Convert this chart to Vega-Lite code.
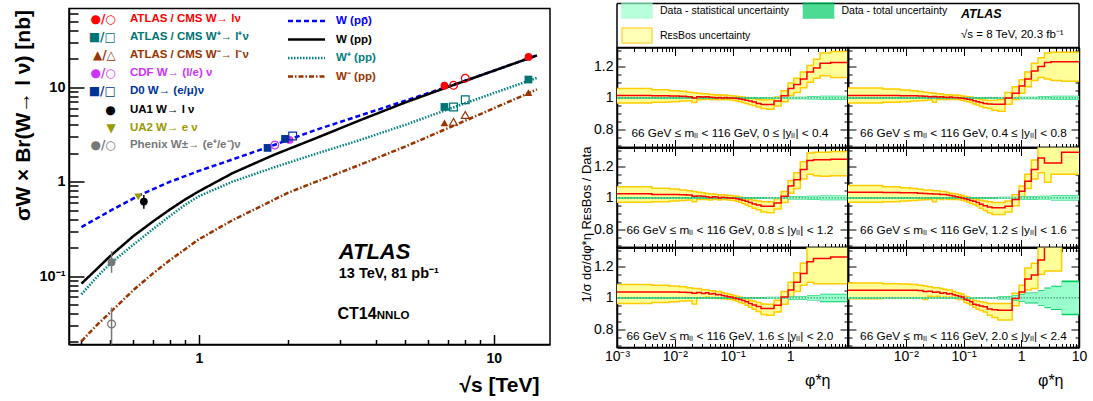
{
"$schema":"https://vega.github.io/schema/vega-lite/v6.json",
"padding":{"left":11,"top":1.5,"right":0,"bottom":0},
"config":{
 "font":"Liberation Sans",
 "view":{"stroke":"#000","strokeWidth":1.5},
 "axis":{"domainColor":"#000","domainWidth":1.5,"tickColor":"#000","tickWidth":1,"labelColor":"#000","titleColor":"#000","grid":false,"labelFlush":false,"labelOverlap":false,"labelBound":false,"zindex":1,"labelFont":"Liberation Sans","titleFont":"Liberation Sans"}
},
"datasets":{
 "th":[
  {"c":"W (pp̄)","s":0.4,"v":0.33},{"c":"W (pp̄)","s":0.5,"v":0.49},{"c":"W (pp̄)","s":0.63,"v":0.72},{"c":"W (pp̄)","s":0.8,"v":1.0},{"c":"W (pp̄)","s":1.0,"v":1.3},{"c":"W (pp̄)","s":1.3,"v":1.72},{"c":"W (pp̄)","s":1.8,"v":2.45},{"c":"W (pp̄)","s":2.5,"v":3.55},{"c":"W (pp̄)","s":3.5,"v":5.0},{"c":"W (pp̄)","s":5,"v":7.2},{"c":"W (pp̄)","s":7,"v":10.2},{"c":"W (pp̄)","s":10,"v":15.0},{"c":"W (pp̄)","s":14,"v":21.8},
  {"c":"W (pp)","s":0.4,"v":0.083},{"c":"W (pp)","s":0.45,"v":0.118},{"c":"W (pp)","s":0.5,"v":0.162},{"c":"W (pp)","s":0.6,"v":0.265},{"c":"W (pp)","s":0.7,"v":0.38},{"c":"W (pp)","s":0.8,"v":0.51},{"c":"W (pp)","s":0.9,"v":0.65},{"c":"W (pp)","s":1.0,"v":0.79},{"c":"W (pp)","s":1.3,"v":1.23},{"c":"W (pp)","s":1.8,"v":1.93},{"c":"W (pp)","s":2.5,"v":2.9},{"c":"W (pp)","s":3.5,"v":4.45},{"c":"W (pp)","s":5,"v":6.9},{"c":"W (pp)","s":7,"v":10.1},{"c":"W (pp)","s":10,"v":15.0},{"c":"W (pp)","s":14,"v":21.8},
  {"c":"W⁺ (pp)","s":0.4,"v":0.064},{"c":"W⁺ (pp)","s":0.45,"v":0.097},{"c":"W⁺ (pp)","s":0.5,"v":0.135},{"c":"W⁺ (pp)","s":0.6,"v":0.215},{"c":"W⁺ (pp)","s":0.7,"v":0.315},{"c":"W⁺ (pp)","s":0.8,"v":0.435},{"c":"W⁺ (pp)","s":0.9,"v":0.57},{"c":"W⁺ (pp)","s":1.0,"v":0.7},{"c":"W⁺ (pp)","s":1.3,"v":1.0},{"c":"W⁺ (pp)","s":1.8,"v":1.42},{"c":"W⁺ (pp)","s":2.5,"v":1.98},{"c":"W⁺ (pp)","s":3.5,"v":2.75},{"c":"W⁺ (pp)","s":5,"v":4.0},{"c":"W⁺ (pp)","s":7,"v":5.85},{"c":"W⁺ (pp)","s":10,"v":8.7},{"c":"W⁺ (pp)","s":14,"v":12.6},
  {"c":"W⁻ (pp)","s":0.4,"v":0.0203},{"c":"W⁻ (pp)","s":0.45,"v":0.03},{"c":"W⁻ (pp)","s":0.5,"v":0.041},{"c":"W⁻ (pp)","s":0.6,"v":0.071},{"c":"W⁻ (pp)","s":0.7,"v":0.107},{"c":"W⁻ (pp)","s":0.8,"v":0.148},{"c":"W⁻ (pp)","s":1.0,"v":0.245},{"c":"W⁻ (pp)","s":1.3,"v":0.39},{"c":"W⁻ (pp)","s":1.7,"v":0.59},{"c":"W⁻ (pp)","s":2.0,"v":0.76},{"c":"W⁻ (pp)","s":2.5,"v":1.0},{"c":"W⁻ (pp)","s":3.5,"v":1.5},{"c":"W⁻ (pp)","s":5,"v":2.35},{"c":"W⁻ (pp)","s":7,"v":3.7},{"c":"W⁻ (pp)","s":10,"v":6.0},{"c":"W⁻ (pp)","s":14,"v":9.5}
 ],
 "pts":[
  {"g":"lnu","s":6.8,"v":10.4,"o":0},{"g":"lnu","s":13.1,"v":21.0,"o":0},{"g":"lnu","s":7.3,"v":10.5,"o":1},{"g":"lnu","s":8.0,"v":12.5,"o":1},
  {"g":"wp","s":6.8,"v":6.2,"o":0},{"g":"wp","s":13.1,"v":12.1,"o":0},{"g":"wp","s":7.3,"v":6.2,"o":1},{"g":"wp","s":8.0,"v":7.4,"o":1},
  {"g":"wm","s":6.8,"v":4.2,"o":0},{"g":"wm","s":13.1,"v":8.8,"o":0},{"g":"wm","s":7.3,"v":4.3,"o":1},{"g":"wm","s":8.0,"v":5.1,"o":1},
  {"g":"cdf","s":1.81,"v":2.45,"o":1},{"g":"cdf","s":2.03,"v":2.77,"o":0},
  {"g":"d0","s":1.71,"v":2.28,"o":0},{"g":"d0","s":1.96,"v":2.84,"o":0},{"g":"d0","s":2.08,"v":3.05,"o":1},
  {"g":"ua1","s":0.651,"v":0.616,"o":0,"lo":0.516,"hi":0.724},
  {"g":"ua2","s":0.623,"v":0.69,"o":0},
  {"g":"phx","s":0.506,"v":0.14,"o":0,"lo":0.108,"hi":0.183},
  {"g":"phx","s":0.506,"v":0.031,"o":1,"lo":0.01,"hi":0.0464}
 ],
 "db":[
  {"p":1,"x":0.001,"sl":0.997,"sh":1.003,"tl":0.995,"th":1.005},{"p":1,"x":0.391,"sl":0.996,"sh":1.004,"tl":0.994,"th":1.006},{"p":1,"x":0.918,"sl":0.994,"sh":1.006,"tl":0.992,"th":1.008},{"p":1,"x":1.947,"sl":0.992,"sh":1.008,"tl":0.99,"th":1.01},{"p":1,"x":3.277,"sl":0.99,"sh":1.01,"tl":0.987,"th":1.013},{"p":1,"x":10,"sl":0.99,"sh":1.01,"tl":0.987,"th":1.013},
  {"p":2,"x":0.001,"sl":0.997,"sh":1.003,"tl":0.995,"th":1.005},{"p":2,"x":0.391,"sl":0.996,"sh":1.004,"tl":0.994,"th":1.006},{"p":2,"x":0.918,"sl":0.994,"sh":1.006,"tl":0.992,"th":1.008},{"p":2,"x":1.947,"sl":0.992,"sh":1.008,"tl":0.99,"th":1.01},{"p":2,"x":3.277,"sl":0.99,"sh":1.01,"tl":0.987,"th":1.013},{"p":2,"x":10,"sl":0.99,"sh":1.01,"tl":0.987,"th":1.013},
  {"p":3,"x":0.001,"sl":0.997,"sh":1.003,"tl":0.995,"th":1.005},{"p":3,"x":0.391,"sl":0.996,"sh":1.004,"tl":0.994,"th":1.006},{"p":3,"x":0.918,"sl":0.993,"sh":1.007,"tl":0.99,"th":1.01},{"p":3,"x":1.947,"sl":0.99,"sh":1.01,"tl":0.987,"th":1.013},{"p":3,"x":3.277,"sl":0.988,"sh":1.012,"tl":0.985,"th":1.015},{"p":3,"x":10,"sl":0.988,"sh":1.012,"tl":0.985,"th":1.015},
  {"p":4,"x":0.001,"sl":0.997,"sh":1.003,"tl":0.995,"th":1.005},{"p":4,"x":0.391,"sl":0.995,"sh":1.005,"tl":0.993,"th":1.007},{"p":4,"x":0.918,"sl":0.992,"sh":1.008,"tl":0.989,"th":1.011},{"p":4,"x":1.947,"sl":0.989,"sh":1.011,"tl":0.986,"th":1.014},{"p":4,"x":3.277,"sl":0.987,"sh":1.013,"tl":0.984,"th":1.016},{"p":4,"x":10,"sl":0.987,"sh":1.013,"tl":0.984,"th":1.016},
  {"p":5,"x":0.001,"sl":0.997,"sh":1.003,"tl":0.995,"th":1.005},{"p":5,"x":0.391,"sl":0.995,"sh":1.005,"tl":0.993,"th":1.007},{"p":5,"x":0.918,"sl":0.992,"sh":1.008,"tl":0.989,"th":1.011},{"p":5,"x":1.947,"sl":0.987,"sh":1.013,"tl":0.983,"th":1.017},{"p":5,"x":3.277,"sl":0.978,"sh":1.022,"tl":0.973,"th":1.027},{"p":5,"x":10,"sl":0.978,"sh":1.022,"tl":0.973,"th":1.027},
  {"p":6,"x":0.001,"sl":0.996,"sh":1.004,"tl":0.994,"th":1.006},{"p":6,"x":0.391,"sl":0.992,"sh":1.008,"tl":0.99,"th":1.01},{"p":6,"x":0.695,"sl":0.985,"sh":1.015,"tl":0.982,"th":1.018},{"p":6,"x":0.918,"sl":0.98,"sh":1.02,"tl":0.976,"th":1.024},{"p":6,"x":1.153,"sl":0.97,"sh":1.03,"tl":0.965,"th":1.035},{"p":6,"x":1.947,"sl":0.955,"sh":1.045,"tl":0.95,"th":1.05},{"p":6,"x":2.522,"sl":0.94,"sh":1.06,"tl":0.934,"th":1.066},{"p":6,"x":3.277,"sl":0.93,"sh":1.07,"tl":0.923,"th":1.077},{"p":6,"x":5,"sl":0.9,"sh":1.1,"tl":0.89,"th":1.11},{"p":6,"x":10,"sl":0.9,"sh":1.1,"tl":0.89,"th":1.11}
 ],
 "rb":[
  {"p":1,"x":0.001,"r":1.015,"l":0.968,"h":1.06},{"p":1,"x":0.004,"r":1.013,"l":0.972,"h":1.052},{"p":1,"x":0.008,"r":1.012,"l":0.976,"h":1.046},{"p":1,"x":0.012,"r":1.01,"l":0.98,"h":1.042},{"p":1,"x":0.016,"r":1.008,"l":0.982,"h":1.036},{"p":1,"x":0.02,"r":1.0,"l":0.97,"h":1.032},{"p":1,"x":0.024,"r":1.008,"l":0.988,"h":1.03},{"p":1,"x":0.029,"r":1.005,"l":0.99,"h":1.026},{"p":1,"x":0.034,"r":1.008,"l":0.992,"h":1.026},{"p":1,"x":0.039,"r":1.004,"l":0.99,"h":1.022},{"p":1,"x":0.045,"r":1.003,"l":0.99,"h":1.02},{"p":1,"x":0.051,"r":1.0,"l":0.988,"h":1.016},{"p":1,"x":0.057,"r":1.003,"l":0.99,"h":1.02},{"p":1,"x":0.064,"r":1.0,"l":0.988,"h":1.016},{"p":1,"x":0.072,"r":1.002,"l":0.99,"h":1.018},{"p":1,"x":0.081,"r":1.0,"l":0.988,"h":1.015},{"p":1,"x":0.091,"r":1.0,"l":0.986,"h":1.014},{"p":1,"x":0.102,"r":0.998,"l":0.984,"h":1.012},{"p":1,"x":0.114,"r":0.996,"l":0.98,"h":1.01},{"p":1,"x":0.128,"r":0.993,"l":0.976,"h":1.008},{"p":1,"x":0.145,"r":0.99,"l":0.97,"h":1.006},{"p":1,"x":0.165,"r":0.985,"l":0.965,"h":1.002},{"p":1,"x":0.189,"r":0.98,"l":0.958,"h":0.998},{"p":1,"x":0.219,"r":0.974,"l":0.952,"h":0.994},{"p":1,"x":0.258,"r":0.965,"l":0.942,"h":0.99},{"p":1,"x":0.312,"r":0.958,"l":0.932,"h":0.986},{"p":1,"x":0.391,"r":0.958,"l":0.928,"h":0.99},{"p":1,"x":0.524,"r":0.98,"l":0.948,"h":1.005},{"p":1,"x":0.695,"r":1.013,"l":0.975,"h":1.045},{"p":1,"x":0.918,"r":1.06,"l":1.015,"h":1.095},{"p":1,"x":1.153,"r":1.085,"l":1.035,"h":1.125},{"p":1,"x":1.496,"r":1.12,"l":1.065,"h":1.165},{"p":1,"x":1.947,"r":1.165,"l":1.1,"h":1.205},{"p":1,"x":2.522,"r":1.19,"l":1.125,"h":1.245},{"p":1,"x":3.277,"r":1.22,"l":1.14,"h":1.285},{"p":1,"x":5,"r":1.225,"l":1.13,"h":1.295},{"p":1,"x":10,"r":1.225,"l":1.13,"h":1.295},
  {"p":2,"x":0.001,"r":1.015,"l":0.968,"h":1.063},{"p":2,"x":0.004,"r":1.015,"l":0.972,"h":1.056},{"p":2,"x":0.008,"r":1.014,"l":0.976,"h":1.05},{"p":2,"x":0.012,"r":1.013,"l":0.98,"h":1.045},{"p":2,"x":0.016,"r":1.012,"l":0.982,"h":1.04},{"p":2,"x":0.02,"r":1.01,"l":0.984,"h":1.036},{"p":2,"x":0.024,"r":1.008,"l":0.986,"h":1.032},{"p":2,"x":0.029,"r":1.009,"l":0.972,"h":1.03},{"p":2,"x":0.034,"r":1.005,"l":0.99,"h":1.026},{"p":2,"x":0.039,"r":1.007,"l":0.99,"h":1.024},{"p":2,"x":0.045,"r":1.004,"l":0.99,"h":1.02},{"p":2,"x":0.051,"r":1.003,"l":0.99,"h":1.018},{"p":2,"x":0.057,"r":1.005,"l":0.992,"h":1.02},{"p":2,"x":0.064,"r":1.002,"l":0.99,"h":1.016},{"p":2,"x":0.072,"r":1.003,"l":0.99,"h":1.018},{"p":2,"x":0.081,"r":1.0,"l":0.988,"h":1.015},{"p":2,"x":0.091,"r":0.998,"l":0.985,"h":1.012},{"p":2,"x":0.102,"r":0.995,"l":0.98,"h":1.01},{"p":2,"x":0.114,"r":0.992,"l":0.975,"h":1.008},{"p":2,"x":0.128,"r":0.988,"l":0.97,"h":1.005},{"p":2,"x":0.145,"r":0.982,"l":0.962,"h":1.0},{"p":2,"x":0.165,"r":0.976,"l":0.955,"h":0.996},{"p":2,"x":0.189,"r":0.97,"l":0.946,"h":0.99},{"p":2,"x":0.219,"r":0.965,"l":0.938,"h":0.986},{"p":2,"x":0.258,"r":0.962,"l":0.932,"h":0.984},{"p":2,"x":0.312,"r":0.96,"l":0.922,"h":0.985},{"p":2,"x":0.391,"r":0.96,"l":0.915,"h":0.99},{"p":2,"x":0.524,"r":1.0,"l":0.96,"h":1.035},{"p":2,"x":0.695,"r":1.03,"l":0.99,"h":1.07},{"p":2,"x":0.918,"r":1.075,"l":1.03,"h":1.115},{"p":2,"x":1.153,"r":1.12,"l":1.07,"h":1.165},{"p":2,"x":1.496,"r":1.17,"l":1.11,"h":1.22},{"p":2,"x":1.947,"r":1.2,"l":1.13,"h":1.255},{"p":2,"x":2.522,"r":1.225,"l":1.12,"h":1.285},{"p":2,"x":3.277,"r":1.23,"l":1.11,"h":1.29},{"p":2,"x":5,"r":1.23,"l":1.105,"h":1.29},{"p":2,"x":10,"r":1.23,"l":1.105,"h":1.29},
  {"p":3,"x":0.001,"r":1.027,"l":0.972,"h":1.07},{"p":3,"x":0.004,"r":1.022,"l":0.976,"h":1.062},{"p":3,"x":0.008,"r":1.021,"l":0.98,"h":1.056},{"p":3,"x":0.012,"r":1.02,"l":0.984,"h":1.05},{"p":3,"x":0.016,"r":1.018,"l":0.986,"h":1.046},{"p":3,"x":0.02,"r":1.01,"l":0.976,"h":1.04},{"p":3,"x":0.024,"r":1.012,"l":0.99,"h":1.036},{"p":3,"x":0.029,"r":1.01,"l":0.99,"h":1.032},{"p":3,"x":0.034,"r":1.008,"l":0.99,"h":1.028},{"p":3,"x":0.039,"r":1.003,"l":0.986,"h":1.025},{"p":3,"x":0.045,"r":1.008,"l":0.992,"h":1.025},{"p":3,"x":0.051,"r":1.005,"l":0.99,"h":1.022},{"p":3,"x":0.057,"r":1.0,"l":0.986,"h":1.018},{"p":3,"x":0.064,"r":1.004,"l":0.99,"h":1.02},{"p":3,"x":0.072,"r":1.002,"l":0.99,"h":1.018},{"p":3,"x":0.081,"r":1.0,"l":0.986,"h":1.015},{"p":3,"x":0.091,"r":1.0,"l":0.985,"h":1.015},{"p":3,"x":0.102,"r":0.998,"l":0.983,"h":1.012},{"p":3,"x":0.114,"r":0.995,"l":0.978,"h":1.01},{"p":3,"x":0.128,"r":0.99,"l":0.972,"h":1.005},{"p":3,"x":0.145,"r":0.985,"l":0.965,"h":1.0},{"p":3,"x":0.165,"r":0.978,"l":0.955,"h":0.995},{"p":3,"x":0.189,"r":0.97,"l":0.945,"h":0.99},{"p":3,"x":0.219,"r":0.962,"l":0.935,"h":0.985},{"p":3,"x":0.258,"r":0.955,"l":0.925,"h":0.98},{"p":3,"x":0.312,"r":0.947,"l":0.91,"h":0.975},{"p":3,"x":0.391,"r":0.947,"l":0.905,"h":0.975},{"p":3,"x":0.524,"r":0.968,"l":0.93,"h":0.995},{"p":3,"x":0.695,"r":1.01,"l":0.97,"h":1.04},{"p":3,"x":0.918,"r":1.075,"l":1.03,"h":1.11},{"p":3,"x":1.153,"r":1.115,"l":1.06,"h":1.16},{"p":3,"x":1.496,"r":1.18,"l":1.12,"h":1.23},{"p":3,"x":1.947,"r":1.237,"l":1.15,"h":1.285},{"p":3,"x":2.522,"r":1.243,"l":1.14,"h":1.29},{"p":3,"x":3.277,"r":1.243,"l":1.138,"h":1.29},{"p":3,"x":5,"r":1.245,"l":1.14,"h":1.295},{"p":3,"x":10,"r":1.245,"l":1.14,"h":1.295},
  {"p":4,"x":0.001,"r":1.036,"l":0.972,"h":1.078},{"p":4,"x":0.004,"r":1.034,"l":0.976,"h":1.07},{"p":4,"x":0.008,"r":1.033,"l":0.98,"h":1.065},{"p":4,"x":0.012,"r":1.032,"l":0.984,"h":1.06},{"p":4,"x":0.016,"r":1.03,"l":0.986,"h":1.055},{"p":4,"x":0.02,"r":1.028,"l":0.988,"h":1.05},{"p":4,"x":0.024,"r":1.027,"l":0.99,"h":1.05},{"p":4,"x":0.029,"r":1.024,"l":0.976,"h":1.045},{"p":4,"x":0.034,"r":1.025,"l":0.995,"h":1.045},{"p":4,"x":0.039,"r":1.021,"l":0.99,"h":1.04},{"p":4,"x":0.045,"r":1.022,"l":0.995,"h":1.04},{"p":4,"x":0.051,"r":1.018,"l":0.99,"h":1.035},{"p":4,"x":0.057,"r":1.015,"l":0.99,"h":1.03},{"p":4,"x":0.064,"r":1.012,"l":0.99,"h":1.028},{"p":4,"x":0.072,"r":1.008,"l":0.99,"h":1.025},{"p":4,"x":0.081,"r":1.004,"l":0.988,"h":1.02},{"p":4,"x":0.091,"r":1.0,"l":0.985,"h":1.015},{"p":4,"x":0.102,"r":0.995,"l":0.98,"h":1.01},{"p":4,"x":0.114,"r":0.99,"l":0.972,"h":1.005},{"p":4,"x":0.128,"r":0.984,"l":0.965,"h":1.0},{"p":4,"x":0.145,"r":0.978,"l":0.958,"h":0.995},{"p":4,"x":0.165,"r":0.97,"l":0.948,"h":0.99},{"p":4,"x":0.189,"r":0.96,"l":0.935,"h":0.985},{"p":4,"x":0.219,"r":0.95,"l":0.92,"h":0.98},{"p":4,"x":0.258,"r":0.942,"l":0.905,"h":0.975},{"p":4,"x":0.312,"r":0.937,"l":0.895,"h":0.97},{"p":4,"x":0.391,"r":0.937,"l":0.895,"h":0.97},{"p":4,"x":0.524,"r":0.947,"l":0.91,"h":0.98},{"p":4,"x":0.695,"r":0.99,"l":0.95,"h":1.02},{"p":4,"x":0.918,"r":1.042,"l":1.0,"h":1.075},{"p":4,"x":1.153,"r":1.106,"l":1.06,"h":1.15},{"p":4,"x":1.496,"r":1.18,"l":1.12,"h":1.24},{"p":4,"x":1.947,"r":1.254,"l":1.16,"h":1.33},{"p":4,"x":2.522,"r":1.222,"l":1.1,"h":1.36},{"p":4,"x":3.277,"r":1.222,"l":1.15,"h":1.36},{"p":4,"x":5,"r":1.29,"l":1.15,"h":1.4},{"p":4,"x":10,"r":1.29,"l":1.15,"h":1.4},
  {"p":5,"x":0.001,"r":1.038,"l":0.964,"h":1.085},{"p":5,"x":0.004,"r":1.038,"l":0.97,"h":1.08},{"p":5,"x":0.008,"r":1.038,"l":0.975,"h":1.075},{"p":5,"x":0.012,"r":1.036,"l":0.98,"h":1.07},{"p":5,"x":0.016,"r":1.035,"l":0.982,"h":1.065},{"p":5,"x":0.02,"r":1.03,"l":0.962,"h":1.06},{"p":5,"x":0.024,"r":1.035,"l":1.0,"h":1.06},{"p":5,"x":0.029,"r":1.028,"l":1.0,"h":1.052},{"p":5,"x":0.034,"r":1.032,"l":1.005,"h":1.05},{"p":5,"x":0.039,"r":1.025,"l":1.0,"h":1.046},{"p":5,"x":0.045,"r":1.028,"l":1.002,"h":1.045},{"p":5,"x":0.051,"r":1.02,"l":0.996,"h":1.04},{"p":5,"x":0.057,"r":1.022,"l":1.0,"h":1.04},{"p":5,"x":0.064,"r":1.015,"l":0.995,"h":1.035},{"p":5,"x":0.072,"r":1.012,"l":0.994,"h":1.03},{"p":5,"x":0.081,"r":1.008,"l":0.99,"h":1.025},{"p":5,"x":0.091,"r":1.005,"l":0.99,"h":1.02},{"p":5,"x":0.102,"r":1.0,"l":0.985,"h":1.015},{"p":5,"x":0.114,"r":0.995,"l":0.978,"h":1.01},{"p":5,"x":0.128,"r":0.99,"l":0.97,"h":1.005},{"p":5,"x":0.145,"r":0.984,"l":0.964,"h":1.0},{"p":5,"x":0.165,"r":0.975,"l":0.954,"h":0.994},{"p":5,"x":0.189,"r":0.965,"l":0.94,"h":0.985},{"p":5,"x":0.219,"r":0.955,"l":0.928,"h":0.978},{"p":5,"x":0.258,"r":0.945,"l":0.914,"h":0.97},{"p":5,"x":0.312,"r":0.932,"l":0.895,"h":0.962},{"p":5,"x":0.391,"r":0.932,"l":0.89,"h":0.96},{"p":5,"x":0.524,"r":0.953,"l":0.91,"h":0.985},{"p":5,"x":0.695,"r":1.006,"l":0.96,"h":1.04},{"p":5,"x":0.918,"r":1.05,"l":1.0,"h":1.1},{"p":5,"x":1.153,"r":1.1,"l":1.04,"h":1.16},{"p":5,"x":1.496,"r":1.155,"l":1.08,"h":1.22},{"p":5,"x":1.947,"r":1.23,"l":1.1,"h":1.33},{"p":5,"x":2.522,"r":1.25,"l":1.09,"h":1.36},{"p":5,"x":3.277,"r":1.25,"l":1.09,"h":1.36},{"p":5,"x":5,"r":1.26,"l":1.09,"h":1.38},{"p":5,"x":10,"r":1.26,"l":1.09,"h":1.38},
  {"p":6,"x":0.001,"r":1.049,"l":0.995,"h":1.095},{"p":6,"x":0.004,"r":1.049,"l":0.997,"h":1.09},{"p":6,"x":0.008,"r":1.049,"l":1.0,"h":1.088},{"p":6,"x":0.012,"r":1.048,"l":1.0,"h":1.085},{"p":6,"x":0.016,"r":1.047,"l":1.0,"h":1.08},{"p":6,"x":0.02,"r":1.04,"l":0.99,"h":1.075},{"p":6,"x":0.024,"r":1.042,"l":1.01,"h":1.07},{"p":6,"x":0.029,"r":1.036,"l":1.005,"h":1.065},{"p":6,"x":0.034,"r":1.038,"l":1.01,"h":1.065},{"p":6,"x":0.039,"r":1.03,"l":1.0,"h":1.06},{"p":6,"x":0.045,"r":1.033,"l":1.005,"h":1.055},{"p":6,"x":0.051,"r":1.025,"l":1.0,"h":1.05},{"p":6,"x":0.057,"r":1.028,"l":1.005,"h":1.05},{"p":6,"x":0.064,"r":1.02,"l":0.998,"h":1.04},{"p":6,"x":0.072,"r":1.015,"l":0.995,"h":1.035},{"p":6,"x":0.081,"r":1.01,"l":0.99,"h":1.03},{"p":6,"x":0.091,"r":1.006,"l":0.99,"h":1.025},{"p":6,"x":0.102,"r":0.99,"l":0.97,"h":1.01},{"p":6,"x":0.114,"r":0.985,"l":0.965,"h":1.005},{"p":6,"x":0.128,"r":0.975,"l":0.955,"h":1.0},{"p":6,"x":0.145,"r":0.96,"l":0.94,"h":0.985},{"p":6,"x":0.165,"r":0.955,"l":0.93,"h":0.98},{"p":6,"x":0.189,"r":0.948,"l":0.92,"h":0.975},{"p":6,"x":0.219,"r":0.943,"l":0.91,"h":0.97},{"p":6,"x":0.258,"r":0.93,"l":0.89,"h":0.965},{"p":6,"x":0.312,"r":0.925,"l":0.875,"h":0.965},{"p":6,"x":0.391,"r":0.922,"l":0.86,"h":0.965},{"p":6,"x":0.524,"r":0.922,"l":0.86,"h":0.965},{"p":6,"x":0.695,"r":0.996,"l":0.95,"h":1.03},{"p":6,"x":0.918,"r":1.038,"l":0.99,"h":1.08},{"p":6,"x":1.153,"r":1.12,"l":1.05,"h":1.19},{"p":6,"x":1.496,"r":1.145,"l":1.06,"h":1.22},{"p":6,"x":1.947,"r":1.24,"l":1.15,"h":1.34},{"p":6,"x":2.522,"r":1.34,"l":1.17,"h":1.5},{"p":6,"x":3.277,"r":1.36,"l":1.17,"h":1.55},{"p":6,"x":5,"r":1.45,"l":1.36,"h":1.6},{"p":6,"x":10,"r":1.45,"l":1.36,"h":1.6}
 ]
},
"spacing":28,
"resolve":{"scale":{"color":"independent","stroke":"independent","strokeDash":"independent","fill":"independent","shape":"independent"},"legend":{"color":"independent","stroke":"independent","strokeDash":"independent","fill":"independent","shape":"independent"}},
"hconcat":[
 {
  "width":481,"height":336,
  "data":{"values":[{}]},
  "layer":[
   {"data":{"name":"th"},"mark":{"type":"line","strokeWidth":2.5,"clip":true},
    "encoding":{
     "x":{"field":"s","type":"quantitative","scale":{"type":"log","domain":[0.363,15.5],"nice":false},
      "axis":{"orient":"bottom","values":[0.4,0.5,0.6,0.7,0.8,0.9,1,2,3,4,5,6,7,8,9,10],"labelExpr":"datum.value==1?'1':datum.value==10?'10':''","tickSize":{"condition":{"test":"datum.value==1||datum.value==10","value":-10},"value":-5},"tickWidth":1.5,"labelPadding":17,"labelFontSize":14,"labelFontWeight":"bold","title":"√s [TeV]","titleFontSize":21,"titleFontWeight":"bold","titleAlign":"right","titleX":470,"titleY":47,"titleBaseline":"alphabetic"}},
     "y":{"field":"v","type":"quantitative","scale":{"type":"log","domain":[0.0188,68.5],"nice":false},
      "axis":{"orient":"left","values":[0.02,0.03,0.04,0.05,0.06,0.07,0.08,0.09,0.1,0.2,0.3,0.4,0.5,0.6,0.7,0.8,0.9,1,2,3,4,5,6,7,8,9,10,20,30,40,50,60],"labelExpr":"datum.value==0.1?'10⁻¹':datum.value==1?'1':datum.value==10?'10':''","tickSize":{"condition":{"test":"datum.value==0.1||datum.value==1||datum.value==10","value":-15},"value":-9},"tickWidth":1.5,"labelPadding":19,"labelFontSize":14.5,"labelFontWeight":"bold","title":"σW × Br(W→ l ν) [nb]","titleFontSize":21,"titleFontWeight":"bold","titleAngle":270,"titleAlign":"right","titleX":-40,"titleY":1,"titleBaseline":"alphabetic"}},
     "stroke":{"field":"c","type":"nominal","scale":{"domain":["W (pp̄)","W (pp)","W⁺ (pp)","W⁻ (pp)"],"range":["#0000ff","#000000","#008080","#993300"]},
      "legend":{"orient":"none","legendX":227,"legendY":2,"title":null,"padding":0,"symbolType":"M-2,0H2","symbolSize":342,"symbolStrokeWidth":2.5,"labelFontSize":11.5,"labelFontWeight":"bold","labelOffset":19,"rowPadding":2.5,"labelLimit":0,"encode":{"labels":{"update":{"fill":{"signal":"datum.value=='W (pp)'?'#000000':indexof(datum.value,'⁺')>=0?'#008080':indexof(datum.value,'⁻')>=0?'#993300':'#0000ff'"}}}}}},
     "strokeDash":{"field":"c","type":"nominal","scale":{"domain":["W (pp̄)","W (pp)","W⁺ (pp)","W⁻ (pp)"],"range":[[5,3],[1,0],[1.5,1.5],[5,2,1.5,2]]},
      "legend":{"orient":"none","legendX":227,"legendY":2,"title":null,"padding":0,"symbolType":"M-2,0H2","symbolSize":342,"symbolStrokeWidth":2.5,"labelFontSize":11.5,"labelFontWeight":"bold","labelOffset":19,"rowPadding":2.5,"labelLimit":0,"encode":{"labels":{"update":{"fill":{"signal":"datum.value=='W (pp)'?'#000000':indexof(datum.value,'⁺')>=0?'#008080':indexof(datum.value,'⁻')>=0?'#993300':'#0000ff'"}}}}}}
    }},
   {"data":{"name":"pts"},"transform":[{"filter":"datum.lo!=null"}],"mark":{"type":"rule","strokeWidth":1.5,"clip":true},
    "encoding":{"x":{"field":"s","type":"quantitative","axis":null},"y":{"field":"lo","type":"quantitative","axis":null},"y2":{"field":"hi"},
     "color":{"field":"g","type":"nominal","scale":{"domain":["lnu","wp","wm","cdf","d0","ua1","ua2","phx"],"range":["#ff0000","#007373","#993300","#cc33ff","#003399","#000000","#999900","#777777"]},"legend":null}}},
   {"data":{"name":"pts"},"transform":[{"filter":"datum.o==0"}],"mark":{"type":"point","filled":true,"size":60,"opacity":1},
    "encoding":{"x":{"field":"s","type":"quantitative","axis":null},"y":{"field":"v","type":"quantitative","axis":null},
     "color":{"field":"g","type":"nominal","scale":{"domain":["lnu","wp","wm","cdf","d0","ua1","ua2","phx"],"range":["#ff0000","#007373","#993300","#cc33ff","#003399","#000000","#999900","#777777"]},"legend":null},
     "shape":{"field":"g","type":"nominal","scale":{"domain":["lnu","wp","wm","cdf","d0","ua1","ua2","phx"],"range":["circle","square","triangle-up","circle","square","circle","triangle-down","circle"]},"legend":null}}},
   {"data":{"name":"pts"},"transform":[{"filter":"datum.o==1"}],"mark":{"type":"point","filled":false,"size":60,"strokeWidth":1.2,"opacity":1},
    "encoding":{"x":{"field":"s","type":"quantitative","axis":null},"y":{"field":"v","type":"quantitative","axis":null},
     "color":{"field":"g","type":"nominal","scale":{"domain":["lnu","wp","wm","cdf","d0","ua1","ua2","phx"],"range":["#ff0000","#007373","#993300","#cc33ff","#003399","#000000","#999900","#777777"]},"legend":null},
     "shape":{"field":"g","type":"nominal","scale":{"domain":["lnu","wp","wm","cdf","d0","ua1","ua2","phx"],"range":["circle","square","triangle-up","circle","square","circle","triangle-down","circle"]},"legend":null}}},
   {"mark":{"type":"text","text":"●/○","font":"DejaVu Sans","fontSize":12,"fontWeight":"bold","align":"right","baseline":"middle","color":"#ff0000"},"encoding":{"x":{"datum":0.523,"type":"quantitative","axis":null},"y":{"datum":52.7,"type":"quantitative","axis":null}}},
   {"mark":{"type":"text","text":"ATLAS / CMS W→ lν","fontSize":11.5,"fontWeight":"bold","align":"left","baseline":"middle","color":"#ff0000"},"encoding":{"x":{"datum":0.584,"type":"quantitative","axis":null},"y":{"datum":52.7,"type":"quantitative","axis":null}}},
   {"mark":{"type":"text","text":"■/□","font":"DejaVu Sans","fontSize":12,"fontWeight":"bold","align":"right","baseline":"middle","color":"#007373"},"encoding":{"x":{"datum":0.523,"type":"quantitative","axis":null},"y":{"datum":34.2,"type":"quantitative","axis":null}}},
   {"mark":{"type":"text","text":"ATLAS / CMS W⁺→ l⁺ν","fontSize":11.5,"fontWeight":"bold","align":"left","baseline":"middle","color":"#007373"},"encoding":{"x":{"datum":0.584,"type":"quantitative","axis":null},"y":{"datum":34.2,"type":"quantitative","axis":null}}},
   {"mark":{"type":"text","text":"▲/△","font":"DejaVu Sans","fontSize":12,"fontWeight":"bold","align":"right","baseline":"middle","color":"#993300"},"encoding":{"x":{"datum":0.523,"type":"quantitative","axis":null},"y":{"datum":21.9,"type":"quantitative","axis":null}}},
   {"mark":{"type":"text","text":"ATLAS / CMS W⁻→ l⁻ν","fontSize":11.5,"fontWeight":"bold","align":"left","baseline":"middle","color":"#993300"},"encoding":{"x":{"datum":0.584,"type":"quantitative","axis":null},"y":{"datum":21.9,"type":"quantitative","axis":null}}},
   {"mark":{"type":"text","text":"●/○","font":"DejaVu Sans","fontSize":12,"fontWeight":"bold","align":"right","baseline":"middle","color":"#cc33ff"},"encoding":{"x":{"datum":0.523,"type":"quantitative","axis":null},"y":{"datum":14.2,"type":"quantitative","axis":null}}},
   {"mark":{"type":"text","text":"CDF W→ (l/e) ν","fontSize":11.5,"fontWeight":"bold","align":"left","baseline":"middle","color":"#cc33ff"},"encoding":{"x":{"datum":0.584,"type":"quantitative","axis":null},"y":{"datum":14.2,"type":"quantitative","axis":null}}},
   {"mark":{"type":"text","text":"■/□","font":"DejaVu Sans","fontSize":12,"fontWeight":"bold","align":"right","baseline":"middle","color":"#003399"},"encoding":{"x":{"datum":0.523,"type":"quantitative","axis":null},"y":{"datum":9.12,"type":"quantitative","axis":null}}},
   {"mark":{"type":"text","text":"D0 W→ (e/μ)ν","fontSize":11.5,"fontWeight":"bold","align":"left","baseline":"middle","color":"#003399"},"encoding":{"x":{"datum":0.584,"type":"quantitative","axis":null},"y":{"datum":9.12,"type":"quantitative","axis":null}}},
   {"mark":{"type":"text","text":"●","font":"DejaVu Sans","fontSize":12,"fontWeight":"bold","align":"right","baseline":"middle","color":"#000000"},"encoding":{"x":{"datum":0.523,"type":"quantitative","axis":null},"y":{"datum":5.82,"type":"quantitative","axis":null}}},
   {"mark":{"type":"text","text":"UA1 W→ l ν","fontSize":11.5,"fontWeight":"bold","align":"left","baseline":"middle","color":"#000000"},"encoding":{"x":{"datum":0.584,"type":"quantitative","axis":null},"y":{"datum":5.82,"type":"quantitative","axis":null}}},
   {"mark":{"type":"text","text":"▼","font":"DejaVu Sans","fontSize":12,"fontWeight":"bold","align":"right","baseline":"middle","color":"#999900"},"encoding":{"x":{"datum":0.523,"type":"quantitative","axis":null},"y":{"datum":3.75,"type":"quantitative","axis":null}}},
   {"mark":{"type":"text","text":"UA2 W→ e ν","fontSize":11.5,"fontWeight":"bold","align":"left","baseline":"middle","color":"#999900"},"encoding":{"x":{"datum":0.584,"type":"quantitative","axis":null},"y":{"datum":3.75,"type":"quantitative","axis":null}}},
   {"mark":{"type":"text","text":"●/○","font":"DejaVu Sans","fontSize":12,"fontWeight":"bold","align":"right","baseline":"middle","color":"#777777"},"encoding":{"x":{"datum":0.523,"type":"quantitative","axis":null},"y":{"datum":2.45,"type":"quantitative","axis":null}}},
   {"mark":{"type":"text","text":"Phenix W±→ (e⁺/e⁻)ν","fontSize":11.5,"fontWeight":"bold","align":"left","baseline":"middle","color":"#777777"},"encoding":{"x":{"datum":0.584,"type":"quantitative","axis":null},"y":{"datum":2.45,"type":"quantitative","axis":null}}},
   {"mark":{"type":"text","text":"ATLAS","fontSize":22,"fontWeight":"bold","fontStyle":"italic","align":"left","baseline":"alphabetic","color":"#000"},"encoding":{"x":{"datum":2.98,"type":"quantitative","axis":null},"y":{"datum":0.151,"type":"quantitative","axis":null}}},
   {"mark":{"type":"text","text":"13 TeV, 81 pb⁻¹","fontSize":14.5,"fontWeight":"bold","align":"left","baseline":"alphabetic","color":"#000"},"encoding":{"x":{"datum":2.98,"type":"quantitative","axis":null},"y":{"datum":0.0953,"type":"quantitative","axis":null}}},
   {"mark":{"type":"text","text":"CT14","fontSize":16,"fontWeight":"bold","align":"left","baseline":"alphabetic","color":"#000"},"encoding":{"x":{"datum":2.95,"type":"quantitative","axis":null},"y":{"datum":0.0353,"type":"quantitative","axis":null}}},
   {"mark":{"type":"text","text":"NNLO","fontSize":11.5,"fontWeight":"bold","align":"left","baseline":"alphabetic","color":"#000"},"encoding":{"x":{"datum":4.01,"type":"quantitative","axis":null},"y":{"datum":0.0353,"type":"quantitative","axis":null}}}
  ],
  "resolve":{"axis":{"x":"independent","y":"independent"}}
 },
 {
  "resolve":{"scale":{"fill":"independent","stroke":"independent"},"legend":{"fill":"independent","stroke":"independent"}},
  "columns":2,"spacing":0,"bounds":"flush","align":"each",
  "concat":[
   {
    "width":231,"height":39,"view":{"stroke":null},"data":{"values":[{}]},
    "layer":[
     {"mark":{"type":"rule","color":"#000","strokeWidth":1.5},"encoding":{"x":{"datum":0,"type":"quantitative","scale":{"domain":[0,1],"nice":false,"zero":false},"axis":null},"x2":{"datum":1},"y":{"datum":1.1282,"type":"quantitative","scale":{"domain":[0,1],"nice":false,"zero":false},"axis":null}}},
     {"mark":{"type":"rule","color":"#000","strokeWidth":1.5},"encoding":{"x":{"datum":0,"type":"quantitative","axis":null},"y":{"datum":0,"type":"quantitative","axis":null},"y2":{"datum":1.1282}}},
     {"data":{"values":[{"k":"Data - statistical uncertainty"},{"k":"Data - total uncertainty"},{"k":"RᴇsBᴏs uncertainty"}]},"transform":[{"filter":"false"}],"mark":{"type":"point","filled":true},
      "encoding":{
       "fill":{"field":"k","type":"nominal","scale":{"domain":["Data - statistical uncertainty","Data - total uncertainty","RᴇsBᴏs uncertainty"],"range":["#99ffcc","#00cc66","#ffff99"]},"legend":{"orient":"none","legendX":11.5,"legendY":-6.5,"direction":"horizontal","columns":2,"title":null,"padding":0,"symbolType":"M-2,-1H2V1H-2Z","symbolSize":225,"symbolStrokeWidth":1.5,"labelFontSize":10.5,"labelOffset":14.5,"columnPadding":10.5,"rowPadding":4,"labelLimit":0}},
       "stroke":{"field":"k","type":"nominal","scale":{"domain":["Data - statistical uncertainty","Data - total uncertainty","RᴇsBᴏs uncertainty"],"range":["#99ffcc","#00cc66","#ffcc00"]},"legend":{"orient":"none","legendX":11.5,"legendY":-6.5,"direction":"horizontal","columns":2,"title":null,"padding":0,"symbolType":"M-2,-1H2V1H-2Z","symbolSize":225,"symbolStrokeWidth":1.5,"labelFontSize":10.5,"labelOffset":14.5,"columnPadding":10.5,"rowPadding":4,"labelLimit":0}}}}
    ]
   },
   {
    "width":231,"height":39,"view":{"stroke":null},"data":{"values":[{}]},
    "layer":[
     {"mark":{"type":"rule","color":"#000","strokeWidth":1.5},"encoding":{"x":{"datum":0,"type":"quantitative","scale":{"domain":[0,1],"nice":false,"zero":false},"axis":null},"x2":{"datum":1},"y":{"datum":1.1282,"type":"quantitative","scale":{"domain":[0,1],"nice":false,"zero":false},"axis":null}}},
     {"mark":{"type":"rule","color":"#000","strokeWidth":1.5},"encoding":{"x":{"datum":1,"type":"quantitative","axis":null},"y":{"datum":0,"type":"quantitative","axis":null},"y2":{"datum":1.1282}}},
     {"mark":{"type":"text","text":"ATLAS","fontSize":12.5,"fontWeight":"bold","fontStyle":"italic","align":"left","baseline":"alphabetic","color":"#000"},"encoding":{"x":{"datum":0.489,"type":"quantitative","axis":null},"y":{"datum":0.7436,"type":"quantitative","axis":null}}},
     {"mark":{"type":"text","text":"√s = 8 TeV, 20.3 fb⁻¹","fontSize":11.5,"align":"left","baseline":"alphabetic","color":"#000"},"encoding":{"x":{"datum":0.489,"type":"quantitative","axis":null},"y":{"datum":0.2564,"type":"quantitative","axis":null}}}
    ]
   },
   {
    "width":231,"height":100,"data":{"values":[{}]},
    "layer":[
     {"data":{"name":"rb"},"transform":[{"filter":"datum.p==1"}],"mark":{"type":"area","interpolate":"step-after","color":"#ffff99","clip":true},
      "encoding":{"x":{"field":"x","type":"quantitative","scale":{"type":"log","domain":[0.001,10],"nice":false},"axis":{"orient":"bottom","values":[0.001,0.002,0.003,0.004,0.005,0.006,0.007,0.008,0.009,0.01,0.02,0.03,0.04,0.05,0.06,0.07,0.08,0.09,0.1,0.2,0.3,0.4,0.5,0.6,0.7,0.8,0.9,1,2,3,4,5,6,7,8,9,10],"labels":false,"tickSize":{"condition":{"test":"datum.value==0.001||datum.value==0.01||datum.value==0.1||datum.value==1||datum.value==10","value":-8},"value":-4},"title":null}},
       "y":{"field":"l","type":"quantitative","scale":{"domain":[0.685,1.32],"nice":false,"zero":false},"axis":{"orient":"left","values":[0.7,0.75,0.8,0.85,0.9,0.95,1,1.05,1.1,1.15,1.2,1.25,1.3],"labelExpr":"datum.value==0.8?'0.8':datum.value==1?'1':datum.value==1.2?'1.2':''","labelFontSize":14,"labelPadding":12,"tickSize":{"condition":{"test":"datum.value==0.8||datum.value==1||datum.value==1.2","value":-8},"value":-4},"title":null}},
       "y2":{"field":"h"}}},
     {"data":{"name":"rb"},"transform":[{"filter":"datum.p==1"}],"mark":{"type":"line","interpolate":"step-after","color":"#ffcc00","strokeWidth":1.5,"clip":true},"encoding":{"x":{"field":"x","type":"quantitative","axis":null},"y":{"field":"h","type":"quantitative","axis":null}}},
     {"data":{"name":"rb"},"transform":[{"filter":"datum.p==1"}],"mark":{"type":"line","interpolate":"step-after","color":"#ffcc00","strokeWidth":1.5,"clip":true},"encoding":{"x":{"field":"x","type":"quantitative","axis":null},"y":{"field":"l","type":"quantitative","axis":null}}},
     {"data":{"name":"db"},"transform":[{"filter":"datum.p==1"}],"mark":{"type":"area","interpolate":"step-after","color":"#00cc66","clip":true},"encoding":{"x":{"field":"x","type":"quantitative","axis":null},"y":{"field":"tl","type":"quantitative","axis":null},"y2":{"field":"th"}}},
     {"data":{"name":"db"},"transform":[{"filter":"datum.p==1"}],"mark":{"type":"area","interpolate":"step-after","color":"#99ffcc","clip":true},"encoding":{"x":{"field":"x","type":"quantitative","axis":null},"y":{"field":"sl","type":"quantitative","axis":null},"y2":{"field":"sh"}}},
     {"mark":{"type":"rule","color":"#2e8b57","strokeDash":[1.5,1.5],"strokeWidth":1},"encoding":{"y":{"datum":1,"type":"quantitative","axis":null}}},
     {"data":{"name":"rb"},"transform":[{"filter":"datum.p==1"}],"mark":{"type":"line","interpolate":"step-after","color":"#ff0000","strokeWidth":1.5,"clip":true},
      "encoding":{"x":{"field":"x","type":"quantitative","axis":{"orient":"top","values":[0.001,0.002,0.003,0.004,0.005,0.006,0.007,0.008,0.009,0.01,0.02,0.03,0.04,0.05,0.06,0.07,0.08,0.09,0.1,0.2,0.3,0.4,0.5,0.6,0.7,0.8,0.9,1,2,3,4,5,6,7,8,9,10],"labels":false,"tickSize":{"condition":{"test":"datum.value==0.001||datum.value==0.01||datum.value==0.1||datum.value==1||datum.value==10","value":-8},"value":-4},"title":null}},
       "y":{"field":"r","type":"quantitative","axis":{"orient":"right","values":[0.7,0.75,0.8,0.85,0.9,0.95,1,1.05,1.1,1.15,1.2,1.25,1.3],"labels":false,"tickSize":{"condition":{"test":"datum.value==0.8||datum.value==1||datum.value==1.2","value":-8},"value":-4},"title":null}}}},
     {"mark":{"type":"text","text":"66 GeV ≤ mₗₗ < 116 GeV, 0 ≤ |yₗₗ| < 0.4","fontSize":11.8,"align":"center","baseline":"middle","color":"#000"},"encoding":{"x":{"datum":0.09,"type":"quantitative","axis":null},"y":{"datum":0.78,"type":"quantitative","axis":null}}}
    ],
    "resolve":{"axis":{"x":"independent","y":"independent"}}
   },
   {
    "width":231,"height":100,"data":{"values":[{}]},
    "layer":[
     {"data":{"name":"rb"},"transform":[{"filter":"datum.p==2"}],"mark":{"type":"area","interpolate":"step-after","color":"#ffff99","clip":true},
      "encoding":{"x":{"field":"x","type":"quantitative","scale":{"type":"log","domain":[0.001,10],"nice":false},"axis":{"orient":"bottom","values":[0.001,0.002,0.003,0.004,0.005,0.006,0.007,0.008,0.009,0.01,0.02,0.03,0.04,0.05,0.06,0.07,0.08,0.09,0.1,0.2,0.3,0.4,0.5,0.6,0.7,0.8,0.9,1,2,3,4,5,6,7,8,9,10],"labels":false,"tickSize":{"condition":{"test":"datum.value==0.001||datum.value==0.01||datum.value==0.1||datum.value==1||datum.value==10","value":-8},"value":-4},"title":null}},
       "y":{"field":"l","type":"quantitative","scale":{"domain":[0.685,1.32],"nice":false,"zero":false},"axis":{"orient":"left","values":[0.7,0.75,0.8,0.85,0.9,0.95,1,1.05,1.1,1.15,1.2,1.25,1.3],"labels":false,"tickSize":{"condition":{"test":"datum.value==0.8||datum.value==1||datum.value==1.2","value":-8},"value":-4},"title":null}},
       "y2":{"field":"h"}}},
     {"data":{"name":"rb"},"transform":[{"filter":"datum.p==2"}],"mark":{"type":"line","interpolate":"step-after","color":"#ffcc00","strokeWidth":1.5,"clip":true},"encoding":{"x":{"field":"x","type":"quantitative","axis":null},"y":{"field":"h","type":"quantitative","axis":null}}},
     {"data":{"name":"rb"},"transform":[{"filter":"datum.p==2"}],"mark":{"type":"line","interpolate":"step-after","color":"#ffcc00","strokeWidth":1.5,"clip":true},"encoding":{"x":{"field":"x","type":"quantitative","axis":null},"y":{"field":"l","type":"quantitative","axis":null}}},
     {"data":{"name":"db"},"transform":[{"filter":"datum.p==2"}],"mark":{"type":"area","interpolate":"step-after","color":"#00cc66","clip":true},"encoding":{"x":{"field":"x","type":"quantitative","axis":null},"y":{"field":"tl","type":"quantitative","axis":null},"y2":{"field":"th"}}},
     {"data":{"name":"db"},"transform":[{"filter":"datum.p==2"}],"mark":{"type":"area","interpolate":"step-after","color":"#99ffcc","clip":true},"encoding":{"x":{"field":"x","type":"quantitative","axis":null},"y":{"field":"sl","type":"quantitative","axis":null},"y2":{"field":"sh"}}},
     {"mark":{"type":"rule","color":"#2e8b57","strokeDash":[1.5,1.5],"strokeWidth":1},"encoding":{"y":{"datum":1,"type":"quantitative","axis":null}}},
     {"data":{"name":"rb"},"transform":[{"filter":"datum.p==2"}],"mark":{"type":"line","interpolate":"step-after","color":"#ff0000","strokeWidth":1.5,"clip":true},
      "encoding":{"x":{"field":"x","type":"quantitative","axis":{"orient":"top","values":[0.001,0.002,0.003,0.004,0.005,0.006,0.007,0.008,0.009,0.01,0.02,0.03,0.04,0.05,0.06,0.07,0.08,0.09,0.1,0.2,0.3,0.4,0.5,0.6,0.7,0.8,0.9,1,2,3,4,5,6,7,8,9,10],"labels":false,"tickSize":{"condition":{"test":"datum.value==0.001||datum.value==0.01||datum.value==0.1||datum.value==1||datum.value==10","value":-8},"value":-4},"title":null}},
       "y":{"field":"r","type":"quantitative","axis":{"orient":"right","values":[0.7,0.75,0.8,0.85,0.9,0.95,1,1.05,1.1,1.15,1.2,1.25,1.3],"labels":false,"tickSize":{"condition":{"test":"datum.value==0.8||datum.value==1||datum.value==1.2","value":-8},"value":-4},"title":null}}}},
     {"mark":{"type":"text","text":"66 GeV ≤ mₗₗ < 116 GeV, 0.4 ≤ |yₗₗ| < 0.8","fontSize":11.8,"align":"center","baseline":"middle","color":"#000"},"encoding":{"x":{"datum":0.1,"type":"quantitative","axis":null},"y":{"datum":0.78,"type":"quantitative","axis":null}}}
    ],
    "resolve":{"axis":{"x":"independent","y":"independent"}}
   },
   {
    "width":231,"height":100,"data":{"values":[{}]},
    "layer":[
     {"data":{"name":"rb"},"transform":[{"filter":"datum.p==3"}],"mark":{"type":"area","interpolate":"step-after","color":"#ffff99","clip":true},
      "encoding":{"x":{"field":"x","type":"quantitative","scale":{"type":"log","domain":[0.001,10],"nice":false},"axis":{"orient":"bottom","values":[0.001,0.002,0.003,0.004,0.005,0.006,0.007,0.008,0.009,0.01,0.02,0.03,0.04,0.05,0.06,0.07,0.08,0.09,0.1,0.2,0.3,0.4,0.5,0.6,0.7,0.8,0.9,1,2,3,4,5,6,7,8,9,10],"labels":false,"tickSize":{"condition":{"test":"datum.value==0.001||datum.value==0.01||datum.value==0.1||datum.value==1||datum.value==10","value":-8},"value":-4},"title":null}},
       "y":{"field":"l","type":"quantitative","scale":{"domain":[0.685,1.32],"nice":false,"zero":false},"axis":{"orient":"left","values":[0.7,0.75,0.8,0.85,0.9,0.95,1,1.05,1.1,1.15,1.2,1.25,1.3],"labelExpr":"datum.value==0.8?'0.8':datum.value==1?'1':datum.value==1.2?'1.2':''","labelFontSize":14,"labelPadding":12,"tickSize":{"condition":{"test":"datum.value==0.8||datum.value==1||datum.value==1.2","value":-8},"value":-4},"title":"1/σ dσ/dφ*η  RᴇsBᴏs / Data","titleFontSize":13,"titleFontWeight":"normal","titleAngle":270,"titleAlign":"center","titleX":-27,"titleY":76.5,"titleBaseline":"alphabetic"}},
       "y2":{"field":"h"}}},
     {"data":{"name":"rb"},"transform":[{"filter":"datum.p==3"}],"mark":{"type":"line","interpolate":"step-after","color":"#ffcc00","strokeWidth":1.5,"clip":true},"encoding":{"x":{"field":"x","type":"quantitative","axis":null},"y":{"field":"h","type":"quantitative","axis":null}}},
     {"data":{"name":"rb"},"transform":[{"filter":"datum.p==3"}],"mark":{"type":"line","interpolate":"step-after","color":"#ffcc00","strokeWidth":1.5,"clip":true},"encoding":{"x":{"field":"x","type":"quantitative","axis":null},"y":{"field":"l","type":"quantitative","axis":null}}},
     {"data":{"name":"db"},"transform":[{"filter":"datum.p==3"}],"mark":{"type":"area","interpolate":"step-after","color":"#00cc66","clip":true},"encoding":{"x":{"field":"x","type":"quantitative","axis":null},"y":{"field":"tl","type":"quantitative","axis":null},"y2":{"field":"th"}}},
     {"data":{"name":"db"},"transform":[{"filter":"datum.p==3"}],"mark":{"type":"area","interpolate":"step-after","color":"#99ffcc","clip":true},"encoding":{"x":{"field":"x","type":"quantitative","axis":null},"y":{"field":"sl","type":"quantitative","axis":null},"y2":{"field":"sh"}}},
     {"mark":{"type":"rule","color":"#2e8b57","strokeDash":[1.5,1.5],"strokeWidth":1},"encoding":{"y":{"datum":1,"type":"quantitative","axis":null}}},
     {"data":{"name":"rb"},"transform":[{"filter":"datum.p==3"}],"mark":{"type":"line","interpolate":"step-after","color":"#ff0000","strokeWidth":1.5,"clip":true},
      "encoding":{"x":{"field":"x","type":"quantitative","axis":{"orient":"top","values":[0.001,0.002,0.003,0.004,0.005,0.006,0.007,0.008,0.009,0.01,0.02,0.03,0.04,0.05,0.06,0.07,0.08,0.09,0.1,0.2,0.3,0.4,0.5,0.6,0.7,0.8,0.9,1,2,3,4,5,6,7,8,9,10],"labels":false,"tickSize":{"condition":{"test":"datum.value==0.001||datum.value==0.01||datum.value==0.1||datum.value==1||datum.value==10","value":-8},"value":-4},"title":null}},
       "y":{"field":"r","type":"quantitative","axis":{"orient":"right","values":[0.7,0.75,0.8,0.85,0.9,0.95,1,1.05,1.1,1.15,1.2,1.25,1.3],"labels":false,"tickSize":{"condition":{"test":"datum.value==0.8||datum.value==1||datum.value==1.2","value":-8},"value":-4},"title":null}}}},
     {"mark":{"type":"text","text":"66 GeV ≤ mₗₗ < 116 GeV, 0.8 ≤ |yₗₗ| < 1.2","fontSize":11.8,"align":"center","baseline":"middle","color":"#000"},"encoding":{"x":{"datum":0.09,"type":"quantitative","axis":null},"y":{"datum":0.795,"type":"quantitative","axis":null}}}
    ],
    "resolve":{"axis":{"x":"independent","y":"independent"}}
   },
   {
    "width":231,"height":100,"data":{"values":[{}]},
    "layer":[
     {"data":{"name":"rb"},"transform":[{"filter":"datum.p==4"}],"mark":{"type":"area","interpolate":"step-after","color":"#ffff99","clip":true},
      "encoding":{"x":{"field":"x","type":"quantitative","scale":{"type":"log","domain":[0.001,10],"nice":false},"axis":{"orient":"bottom","values":[0.001,0.002,0.003,0.004,0.005,0.006,0.007,0.008,0.009,0.01,0.02,0.03,0.04,0.05,0.06,0.07,0.08,0.09,0.1,0.2,0.3,0.4,0.5,0.6,0.7,0.8,0.9,1,2,3,4,5,6,7,8,9,10],"labels":false,"tickSize":{"condition":{"test":"datum.value==0.001||datum.value==0.01||datum.value==0.1||datum.value==1||datum.value==10","value":-8},"value":-4},"title":null}},
       "y":{"field":"l","type":"quantitative","scale":{"domain":[0.685,1.32],"nice":false,"zero":false},"axis":{"orient":"left","values":[0.7,0.75,0.8,0.85,0.9,0.95,1,1.05,1.1,1.15,1.2,1.25,1.3],"labels":false,"tickSize":{"condition":{"test":"datum.value==0.8||datum.value==1||datum.value==1.2","value":-8},"value":-4},"title":null}},
       "y2":{"field":"h"}}},
     {"data":{"name":"rb"},"transform":[{"filter":"datum.p==4"}],"mark":{"type":"line","interpolate":"step-after","color":"#ffcc00","strokeWidth":1.5,"clip":true},"encoding":{"x":{"field":"x","type":"quantitative","axis":null},"y":{"field":"h","type":"quantitative","axis":null}}},
     {"data":{"name":"rb"},"transform":[{"filter":"datum.p==4"}],"mark":{"type":"line","interpolate":"step-after","color":"#ffcc00","strokeWidth":1.5,"clip":true},"encoding":{"x":{"field":"x","type":"quantitative","axis":null},"y":{"field":"l","type":"quantitative","axis":null}}},
     {"data":{"name":"db"},"transform":[{"filter":"datum.p==4"}],"mark":{"type":"area","interpolate":"step-after","color":"#00cc66","clip":true},"encoding":{"x":{"field":"x","type":"quantitative","axis":null},"y":{"field":"tl","type":"quantitative","axis":null},"y2":{"field":"th"}}},
     {"data":{"name":"db"},"transform":[{"filter":"datum.p==4"}],"mark":{"type":"area","interpolate":"step-after","color":"#99ffcc","clip":true},"encoding":{"x":{"field":"x","type":"quantitative","axis":null},"y":{"field":"sl","type":"quantitative","axis":null},"y2":{"field":"sh"}}},
     {"mark":{"type":"rule","color":"#2e8b57","strokeDash":[1.5,1.5],"strokeWidth":1},"encoding":{"y":{"datum":1,"type":"quantitative","axis":null}}},
     {"data":{"name":"rb"},"transform":[{"filter":"datum.p==4"}],"mark":{"type":"line","interpolate":"step-after","color":"#ff0000","strokeWidth":1.5,"clip":true},
      "encoding":{"x":{"field":"x","type":"quantitative","axis":{"orient":"top","values":[0.001,0.002,0.003,0.004,0.005,0.006,0.007,0.008,0.009,0.01,0.02,0.03,0.04,0.05,0.06,0.07,0.08,0.09,0.1,0.2,0.3,0.4,0.5,0.6,0.7,0.8,0.9,1,2,3,4,5,6,7,8,9,10],"labels":false,"tickSize":{"condition":{"test":"datum.value==0.001||datum.value==0.01||datum.value==0.1||datum.value==1||datum.value==10","value":-8},"value":-4},"title":null}},
       "y":{"field":"r","type":"quantitative","axis":{"orient":"right","values":[0.7,0.75,0.8,0.85,0.9,0.95,1,1.05,1.1,1.15,1.2,1.25,1.3],"labels":false,"tickSize":{"condition":{"test":"datum.value==0.8||datum.value==1||datum.value==1.2","value":-8},"value":-4},"title":null}}}},
     {"mark":{"type":"text","text":"66 GeV ≤ mₗₗ < 116 GeV, 1.2 ≤ |yₗₗ| < 1.6","fontSize":11.8,"align":"center","baseline":"middle","color":"#000"},"encoding":{"x":{"datum":0.1,"type":"quantitative","axis":null},"y":{"datum":0.795,"type":"quantitative","axis":null}}}
    ],
    "resolve":{"axis":{"x":"independent","y":"independent"}}
   },
   {
    "width":231,"height":100,"data":{"values":[{}]},
    "layer":[
     {"data":{"name":"rb"},"transform":[{"filter":"datum.p==5"}],"mark":{"type":"area","interpolate":"step-after","color":"#ffff99","clip":true},
      "encoding":{"x":{"field":"x","type":"quantitative","scale":{"type":"log","domain":[0.001,10],"nice":false},"axis":{"orient":"bottom","values":[0.001,0.002,0.003,0.004,0.005,0.006,0.007,0.008,0.009,0.01,0.02,0.03,0.04,0.05,0.06,0.07,0.08,0.09,0.1,0.2,0.3,0.4,0.5,0.6,0.7,0.8,0.9,1,2,3,4,5,6,7,8,9,10],"labelExpr":"datum.value==0.001?'10⁻³':datum.value==0.01?'10⁻²':datum.value==0.1?'10⁻¹':datum.value==1?'1':''","labelFontSize":14,"labelPadding":10,"tickSize":{"condition":{"test":"datum.value==0.001||datum.value==0.01||datum.value==0.1||datum.value==1||datum.value==10","value":-8},"value":-4},"title":"φ*η","titleFontSize":16,"titleFontWeight":"normal","titleAlign":"right","titleX":213,"titleY":38,"titleBaseline":"alphabetic"}},
       "y":{"field":"l","type":"quantitative","scale":{"domain":[0.685,1.32],"nice":false,"zero":false},"axis":{"orient":"left","values":[0.7,0.75,0.8,0.85,0.9,0.95,1,1.05,1.1,1.15,1.2,1.25,1.3],"labelExpr":"datum.value==0.8?'0.8':datum.value==1?'1':datum.value==1.2?'1.2':''","labelFontSize":14,"labelPadding":12,"tickSize":{"condition":{"test":"datum.value==0.8||datum.value==1||datum.value==1.2","value":-8},"value":-4},"title":null}},
       "y2":{"field":"h"}}},
     {"data":{"name":"rb"},"transform":[{"filter":"datum.p==5"}],"mark":{"type":"line","interpolate":"step-after","color":"#ffcc00","strokeWidth":1.5,"clip":true},"encoding":{"x":{"field":"x","type":"quantitative","axis":null},"y":{"field":"h","type":"quantitative","axis":null}}},
     {"data":{"name":"rb"},"transform":[{"filter":"datum.p==5"}],"mark":{"type":"line","interpolate":"step-after","color":"#ffcc00","strokeWidth":1.5,"clip":true},"encoding":{"x":{"field":"x","type":"quantitative","axis":null},"y":{"field":"l","type":"quantitative","axis":null}}},
     {"data":{"name":"db"},"transform":[{"filter":"datum.p==5"}],"mark":{"type":"area","interpolate":"step-after","color":"#00cc66","clip":true},"encoding":{"x":{"field":"x","type":"quantitative","axis":null},"y":{"field":"tl","type":"quantitative","axis":null},"y2":{"field":"th"}}},
     {"data":{"name":"db"},"transform":[{"filter":"datum.p==5"}],"mark":{"type":"area","interpolate":"step-after","color":"#99ffcc","clip":true},"encoding":{"x":{"field":"x","type":"quantitative","axis":null},"y":{"field":"sl","type":"quantitative","axis":null},"y2":{"field":"sh"}}},
     {"mark":{"type":"rule","color":"#2e8b57","strokeDash":[1.5,1.5],"strokeWidth":1},"encoding":{"y":{"datum":1,"type":"quantitative","axis":null}}},
     {"data":{"name":"rb"},"transform":[{"filter":"datum.p==5"}],"mark":{"type":"line","interpolate":"step-after","color":"#ff0000","strokeWidth":1.5,"clip":true},
      "encoding":{"x":{"field":"x","type":"quantitative","axis":{"orient":"top","values":[0.001,0.002,0.003,0.004,0.005,0.006,0.007,0.008,0.009,0.01,0.02,0.03,0.04,0.05,0.06,0.07,0.08,0.09,0.1,0.2,0.3,0.4,0.5,0.6,0.7,0.8,0.9,1,2,3,4,5,6,7,8,9,10],"labels":false,"tickSize":{"condition":{"test":"datum.value==0.001||datum.value==0.01||datum.value==0.1||datum.value==1||datum.value==10","value":-8},"value":-4},"title":null}},
       "y":{"field":"r","type":"quantitative","axis":{"orient":"right","values":[0.7,0.75,0.8,0.85,0.9,0.95,1,1.05,1.1,1.15,1.2,1.25,1.3],"labels":false,"tickSize":{"condition":{"test":"datum.value==0.8||datum.value==1||datum.value==1.2","value":-8},"value":-4},"title":null}}}},
     {"mark":{"type":"text","text":"66 GeV ≤ mₗₗ < 116 GeV, 1.6 ≤ |yₗₗ| < 2.0","fontSize":11.8,"align":"center","baseline":"middle","color":"#000"},"encoding":{"x":{"datum":0.09,"type":"quantitative","axis":null},"y":{"datum":0.76,"type":"quantitative","axis":null}}}
    ],
    "resolve":{"axis":{"x":"independent","y":"independent"}}
   },
   {
    "width":231,"height":100,"data":{"values":[{}]},
    "layer":[
     {"data":{"name":"rb"},"transform":[{"filter":"datum.p==6"}],"mark":{"type":"area","interpolate":"step-after","color":"#ffff99","clip":true},
      "encoding":{"x":{"field":"x","type":"quantitative","scale":{"type":"log","domain":[0.001,10],"nice":false},"axis":{"orient":"bottom","values":[0.001,0.002,0.003,0.004,0.005,0.006,0.007,0.008,0.009,0.01,0.02,0.03,0.04,0.05,0.06,0.07,0.08,0.09,0.1,0.2,0.3,0.4,0.5,0.6,0.7,0.8,0.9,1,2,3,4,5,6,7,8,9,10],"labelExpr":"datum.value==0.01?'10⁻²':datum.value==0.1?'10⁻¹':datum.value==1?'1':datum.value==10?'10':''","labelFontSize":14,"labelPadding":10,"tickSize":{"condition":{"test":"datum.value==0.001||datum.value==0.01||datum.value==0.1||datum.value==1||datum.value==10","value":-8},"value":-4},"title":"φ*η","titleFontSize":16,"titleFontWeight":"normal","titleAlign":"right","titleX":215,"titleY":38,"titleBaseline":"alphabetic"}},
       "y":{"field":"l","type":"quantitative","scale":{"domain":[0.685,1.32],"nice":false,"zero":false},"axis":{"orient":"left","values":[0.7,0.75,0.8,0.85,0.9,0.95,1,1.05,1.1,1.15,1.2,1.25,1.3],"labels":false,"tickSize":{"condition":{"test":"datum.value==0.8||datum.value==1||datum.value==1.2","value":-8},"value":-4},"title":null}},
       "y2":{"field":"h"}}},
     {"data":{"name":"rb"},"transform":[{"filter":"datum.p==6"}],"mark":{"type":"line","interpolate":"step-after","color":"#ffcc00","strokeWidth":1.5,"clip":true},"encoding":{"x":{"field":"x","type":"quantitative","axis":null},"y":{"field":"h","type":"quantitative","axis":null}}},
     {"data":{"name":"rb"},"transform":[{"filter":"datum.p==6"}],"mark":{"type":"line","interpolate":"step-after","color":"#ffcc00","strokeWidth":1.5,"clip":true},"encoding":{"x":{"field":"x","type":"quantitative","axis":null},"y":{"field":"l","type":"quantitative","axis":null}}},
     {"data":{"name":"db"},"transform":[{"filter":"datum.p==6"}],"mark":{"type":"area","interpolate":"step-after","color":"#00cc66","clip":true},"encoding":{"x":{"field":"x","type":"quantitative","axis":null},"y":{"field":"tl","type":"quantitative","axis":null},"y2":{"field":"th"}}},
     {"data":{"name":"db"},"transform":[{"filter":"datum.p==6"}],"mark":{"type":"area","interpolate":"step-after","color":"#99ffcc","clip":true},"encoding":{"x":{"field":"x","type":"quantitative","axis":null},"y":{"field":"sl","type":"quantitative","axis":null},"y2":{"field":"sh"}}},
     {"mark":{"type":"rule","color":"#2e8b57","strokeDash":[1.5,1.5],"strokeWidth":1},"encoding":{"y":{"datum":1,"type":"quantitative","axis":null}}},
     {"data":{"name":"rb"},"transform":[{"filter":"datum.p==6"}],"mark":{"type":"line","interpolate":"step-after","color":"#ff0000","strokeWidth":1.5,"clip":true},
      "encoding":{"x":{"field":"x","type":"quantitative","axis":{"orient":"top","values":[0.001,0.002,0.003,0.004,0.005,0.006,0.007,0.008,0.009,0.01,0.02,0.03,0.04,0.05,0.06,0.07,0.08,0.09,0.1,0.2,0.3,0.4,0.5,0.6,0.7,0.8,0.9,1,2,3,4,5,6,7,8,9,10],"labels":false,"tickSize":{"condition":{"test":"datum.value==0.001||datum.value==0.01||datum.value==0.1||datum.value==1||datum.value==10","value":-8},"value":-4},"title":null}},
       "y":{"field":"r","type":"quantitative","axis":{"orient":"right","values":[0.7,0.75,0.8,0.85,0.9,0.95,1,1.05,1.1,1.15,1.2,1.25,1.3],"labels":false,"tickSize":{"condition":{"test":"datum.value==0.8||datum.value==1||datum.value==1.2","value":-8},"value":-4},"title":null}}}},
     {"mark":{"type":"text","text":"66 GeV ≤ mₗₗ < 116 GeV, 2.0 ≤ |yₗₗ| < 2.4","fontSize":11.8,"align":"center","baseline":"middle","color":"#000"},"encoding":{"x":{"datum":0.1,"type":"quantitative","axis":null},"y":{"datum":0.76,"type":"quantitative","axis":null}}}
    ],
    "resolve":{"axis":{"x":"independent","y":"independent"}}
   }
  ]
 }
]
}
